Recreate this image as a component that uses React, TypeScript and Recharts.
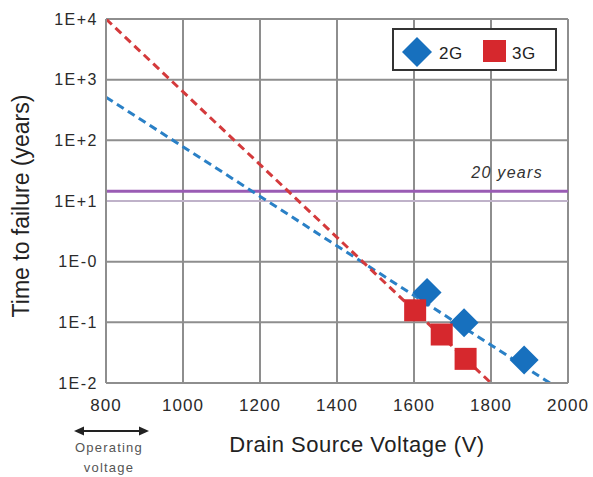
import React from "react";
import {
  ComposedChart,
  XAxis,
  YAxis,
  CartesianGrid,
  Line,
  Scatter,
  ReferenceLine,
  Legend,
} from "recharts";

// ---- data ----
const gen2Voltage = [1634, 1730, 1886];
const gen2Years = [0.31, 0.098, 0.024];
const gen3Voltage = [1603, 1672, 1734];
const gen3Years = [0.158, 0.063, 0.025];
const fit2Voltage = [800, 1953];
const fit2Years = [515, 0.01];
const fit3Voltage = [800, 1800];
const fit3Years = [10000, 0.01];
const xTicks = [800, 1000, 1200, 1400, 1600, 1800, 2000];
const yTicks = [0.01, 0.1, 1, 10, 100, 1000, 10000];
const yTickLabels = ["1E-2", "1E-1", "1E-0", "1E+1", "1E+2", "1E+3", "1E+4"];
const limitYears = 14.5;
const limitLabel = "20 years";
const decadeLine = 10;
const seriesNames = ["2G", "3G"];

const toPoints = (xs: number[], ys: number[]) => xs.map((x, i) => ({ x, y: ys[i] }));
const gen2 = toPoints(gen2Voltage, gen2Years);
const gen3 = toPoints(gen3Voltage, gen3Years);
const fit2 = toPoints(fit2Voltage, fit2Years);
const fit3 = toPoints(fit3Voltage, fit3Years);

const BLUE = "#1770be";
const BLUE_LINE = "#2a80c6";
const RED = "#d6282d";
const RED_LINE = "#d43a3c";
const PURPLE = "#9a5cb4";
const GRID = "#8e8e8e";
const FONT = "'Liberation Sans', Arial, Helvetica, sans-serif";

const Diamond = (props: any) => {
  const { cx, cy } = props;
  if (cx == null || cy == null) return null;
  const r = 14.5;
  return (
    <polygon
      points={`${cx},${cy - r} ${cx + r},${cy} ${cx},${cy + r} ${cx - r},${cy}`}
      fill={BLUE}
    />
  );
};

const Square = (props: any) => {
  const { cx, cy } = props;
  if (cx == null || cy == null) return null;
  const s = 22;
  return <rect x={cx - s / 2} y={cy - s / 2} width={s} height={s} fill={RED} />;
};

const LegendBox = () => (
  <div
    style={{
      position: "absolute",
      left: 0,
      top: 0,
      width: 165,
      height: 43,
      boxSizing: "border-box",
      border: "2px solid #333",
      background: "#fff",
      fontFamily: FONT,
    }}
  >
    <svg width={161} height={39} style={{ position: "absolute", left: 0, top: 0 }}>
      <polygon points="23,7 38,22 23,37 8,22" fill={BLUE} />
      <text x={45} y={29} fontSize={17} letterSpacing={0.5} fill="#222" fontFamily={FONT}>
        {seriesNames[0]}
      </text>
      <rect x={89} y={10} width={23} height={22} fill={RED} />
      <text x={118} y={29} fontSize={17} letterSpacing={0.5} fill="#222" fontFamily={FONT}>
        {seriesNames[1]}
      </text>
    </svg>
  </div>
);

export default function App() {
  return (
    <div style={{ position: "absolute", left: 0, top: 0, width: 593, height: 477, background: "#fff" }}>
      <ComposedChart
        width={593}
        height={477}
        margin={{ top: 19, right: 25, bottom: 34, left: 0 }}
        style={{ fontFamily: FONT }}
      >
        <CartesianGrid stroke={GRID} strokeWidth={2} />
        <XAxis
          dataKey="x"
          type="number"
          domain={[800, 2000]}
          ticks={xTicks}
          allowDataOverflow
          height={60}
          tickLine={false}
          tickSize={6}
          tickMargin={10}
          axisLine={{ stroke: GRID, strokeWidth: 2 }}
          tick={{ fontSize: 17, fill: "#2a2a2a", letterSpacing: 1, fontFamily: FONT }}
          label={{
            content: (p: any) => {
              const vb = p.viewBox;
              return (
                <text
                  x={vb.x + vb.width / 2 + 20}
                  y={vb.y + 69}
                  textAnchor="middle"
                  fontSize={22}
                  letterSpacing={0.5}
                  fill="#222"
                  fontFamily={FONT}
                >
                  Drain Source Voltage (V)
                </text>
              );
            },
          }}
        />
        <YAxis
          dataKey="y"
          type="number"
          scale="log"
          domain={[0.01, 10000]}
          ticks={yTicks}
          allowDataOverflow
          width={106}
          tickLine={false}
          tickSize={6}
          tickMargin={2}
          axisLine={{ stroke: GRID, strokeWidth: 2 }}
          tick={{ fontSize: 16, fill: "#2a2a2a", letterSpacing: 1.5, fontFamily: FONT }}
          tickFormatter={(v: number) => yTickLabels[yTicks.indexOf(v)] ?? ""}
          label={{
            content: (p: any) => {
              const vb = p.viewBox;
              const cx = 29;
              const cy = vb.y + vb.height / 2 + 5;
              return (
                <text
                  x={cx}
                  y={cy}
                  transform={`rotate(-90, ${cx}, ${cy})`}
                  textAnchor="middle"
                  fontSize={23}
                  fill="#222"
                  fontFamily={FONT}
                >
                  Time to failure (years)
                </text>
              );
            },
          }}
        />
        <ReferenceLine y={decadeLine} stroke="#bfb2c9" strokeWidth={2} />
        <ReferenceLine
          y={limitYears}
          stroke={PURPLE}
          strokeWidth={3}
          label={{
            content: (p: any) => {
              const vb = p.viewBox;
              return (
                <text
                  x={vb.x + vb.width - 25}
                  y={vb.y - 13}
                  textAnchor="end"
                  fontSize={16}
                  fontStyle="italic"
                  letterSpacing={1.3}
                  fill="#333"
                  fontFamily={FONT}
                >
                  {limitLabel}
                </text>
              );
            },
          }}
        />
        <Line
          data={fit2}
          dataKey="y"
          type="linear"
          stroke={BLUE_LINE}
          strokeWidth={3}
          strokeDasharray="8 5"
          dot={false}
          activeDot={false}
          isAnimationActive={false}
          legendType="none"
        />
        <Line
          data={fit3}
          dataKey="y"
          type="linear"
          stroke={RED_LINE}
          strokeWidth={3}
          strokeDasharray="8 5"
          dot={false}
          activeDot={false}
          isAnimationActive={false}
          legendType="none"
        />
        <Scatter name={seriesNames[0]} data={gen2} dataKey="y" shape={Diamond} isAnimationActive={false} />
        <Scatter name={seriesNames[1]} data={gen3} dataKey="y" shape={Square} isAnimationActive={false} />
        <Legend
          content={() => <LegendBox />}
          wrapperStyle={{ position: "absolute", left: 392, top: 28, width: 0, height: 0, overflow: "visible" }}
        />
      </ComposedChart>
      <svg
        width={593}
        height={477}
        style={{ position: "absolute", left: 0, top: 0, pointerEvents: "none" }}
      >
        <line x1={82} y1={431} x2={141} y2={431} stroke="#222" strokeWidth={2} />
        <polygon points="74,431 84,426.5 84,435.5" fill="#222" />
        <polygon points="149,431 139,426.5 139,435.5" fill="#222" />
        <text x={109} y={452} textAnchor="middle" fontSize={13} letterSpacing={1.2} fill="#555" fontFamily={FONT}>
          Operating
        </text>
        <text x={109} y={472} textAnchor="middle" fontSize={13} letterSpacing={1.2} fill="#555" fontFamily={FONT}>
          voltage
        </text>
      </svg>
    </div>
  );
}
